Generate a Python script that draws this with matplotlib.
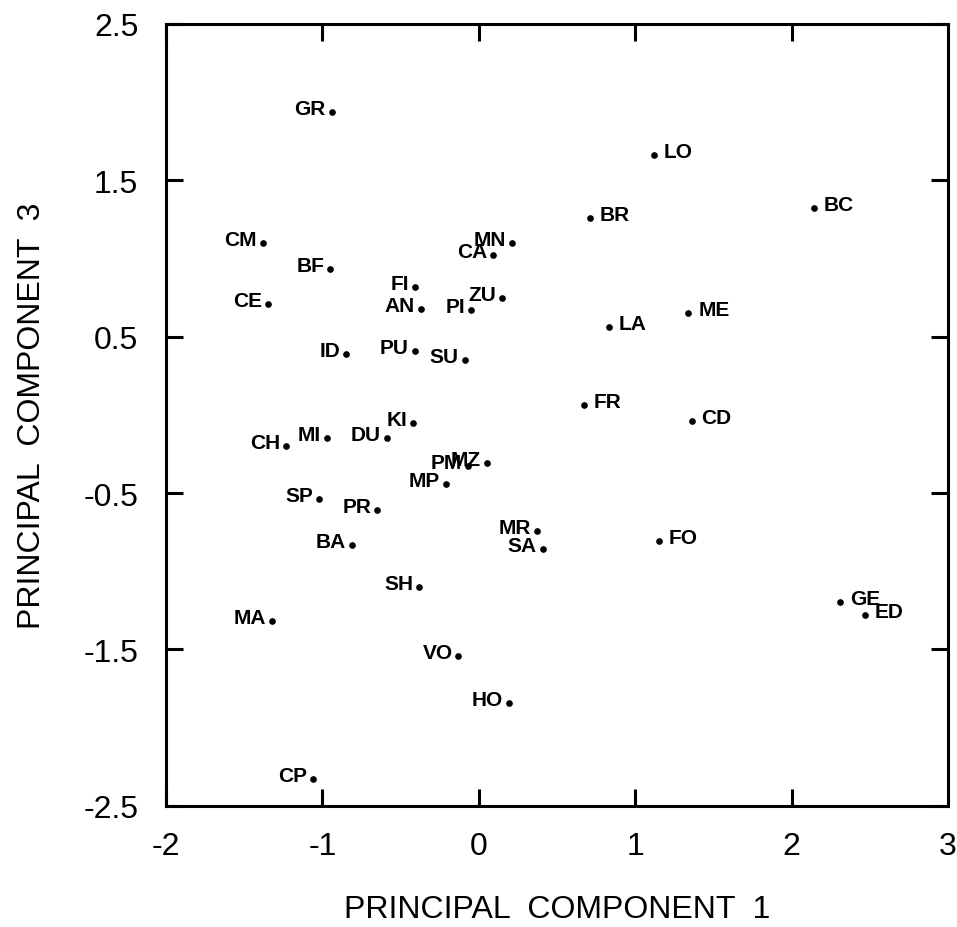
import matplotlib
matplotlib.use("Agg")
import matplotlib.pyplot as plt

plt.rcParams['font.family'] = ['Liberation Sans', 'DejaVu Sans']
plt.rcParams['axes.unicode_minus'] = False

# códigos de las observaciones y sus puntuaciones en las componentes 1 y 3
codigos = ['GR', 'CM', 'BF', 'CE', 'MN', 'CA', 'FI', 'ZU', 'AN', 'PI',
           'ID', 'PU', 'SU', 'LO', 'BR', 'BC', 'ME', 'LA', 'FR', 'CD',
           'KI', 'CH', 'MI', 'DU', 'PM', 'MZ', 'MP', 'SP', 'PR', 'MR',
           'SA', 'BA', 'SH', 'MA', 'VO', 'HO', 'CP', 'FO', 'GE', 'ED']
pc1 = [-0.94, -1.38, -0.95, -1.35, 0.21, 0.09, -0.41, 0.15, -0.37, -0.05,
       -0.85, -0.41, -0.09, 1.12, 0.71, 2.14, 1.34, 0.83, 0.67, 1.36,
       -0.42, -1.23, -0.97, -0.59, -0.07, 0.05, -0.21, -1.02, -0.65, 0.37,
       0.41, -0.81, -0.38, -1.32, -0.13, 0.19, -1.06, 1.15, 2.31, 2.47]
pc3 = [1.94, 1.10, 0.93, 0.71, 1.10, 1.02, 0.82, 0.75, 0.68, 0.67,
       0.39, 0.41, 0.35, 1.66, 1.26, 1.32, 0.65, 0.56, 0.06, -0.04,
       -0.05, -0.20, -0.15, -0.15, -0.33, -0.31, -0.44, -0.54, -0.61, -0.74,
       -0.86, -0.83, -1.10, -1.32, -1.54, -1.84, -2.33, -0.81, -1.20, -1.28]

xticks = [-2, -1, 0, 1, 2, 3]
yticks = [-2.5, -1.5, -0.5, 0.5, 1.5, 2.5]

fig = plt.figure(figsize=(9.57, 9.28), dpi=100)
ax = fig.add_axes([0.1735, 0.1307, 0.8171, 0.8424])

ax.plot(pc1, pc3, 'o', color='black', markersize=3.8)

for c, x, y in zip(codigos, pc1, pc3):
    if x > 0.6:
        ax.annotate(c, (x, y), xytext=(10, -2), textcoords='offset pixels',
                    ha='left', va='baseline', fontsize=15, fontweight='bold')
    else:
        ax.annotate(c, (x, y), xytext=(-6, -2), textcoords='offset pixels',
                    ha='right', va='baseline', fontsize=15, fontweight='bold')

ax.set_xlim(-2, 3)
ax.set_ylim(-2.5, 2.5)
ax.set_xticks(xticks)
ax.set_yticks(yticks)
ax.tick_params(direction='in', length=12, width=2.2, top=True, right=True,
               labelsize=23)
ax.tick_params(axis='x', pad=18)
ax.tick_params(axis='y', pad=20)
for s in ax.spines.values():
    s.set_linewidth(2.2)

ax.set_xlabel('PRINCIPAL  COMPONENT  1', fontsize=23, labelpad=24)
ax.set_ylabel('PRINCIPAL  COMPONENT  3', fontsize=23, labelpad=26)

fig.savefig('out.png', dpi=100)
